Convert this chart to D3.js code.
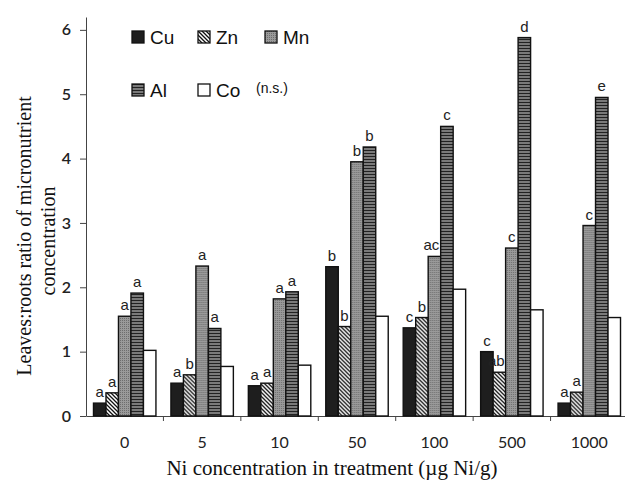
<!DOCTYPE html>
<html>
<head>
<meta charset="utf-8">
<script src="https://cdn.jsdelivr.net/npm/d3@7"></script>
<style>
  body { margin: 0; background: #fff; }
  svg { display: block; }
</style>
</head>
<body>
<div id="chart"></div>
<script>
// treatment groups (µg Ni/g) and nutrients
const groups = ["0", "5", "10", "50", "100", "500", "1000"];
const nutrients = ["Cu", "Zn", "Mn", "Al", "Co"];

// leaves:roots ratios, one array per nutrient
const cuVals = [0.20, 0.51, 0.47, 2.32, 1.37, 1.00, 0.20];
const znVals = [0.36, 0.64, 0.51, 1.39, 1.53, 0.68, 0.37];
const mnVals = [1.55, 2.33, 1.82, 3.95, 2.48, 2.61, 2.96];
const alVals = [1.91, 1.36, 1.93, 4.18, 4.50, 5.88, 4.95];
const coVals = [1.02, 0.77, 0.79, 1.55, 1.97, 1.65, 1.53];

// significance letters (Co is n.s.)
const cuLetters = ["a", "a", "a", "b", "c", "c", "a"];
const znLetters = ["a", "b", "a", "b", "b", "ab", "a"];
const mnLetters = ["a", "a", "a", "b", "ac", "c", "c"];
const alLetters = ["a", "a", "a", "b", "c", "d", "e"];

const yTicks = [0, 1, 2, 3, 4, 5, 6];

const values = { Cu: cuVals, Zn: znVals, Mn: mnVals, Al: alVals, Co: coVals };
const letters = { Cu: cuLetters, Zn: znLetters, Mn: mnLetters, Al: alLetters };

const width = 625, height = 487;
const margin = { top: 17, right: -3, bottom: 71, left: 86 };

const svg = d3.select("#chart")
  .append("svg")
  .attr("width", width)
  .attr("height", height);

// patterns for the bar fills
const defs = svg.append("defs");

const zn = defs.append("pattern")
  .attr("id", "pZn").attr("patternUnits", "userSpaceOnUse")
  .attr("width", 4).attr("height", 4);
zn.append("rect").attr("width", 4).attr("height", 4).attr("fill", "#fff");
zn.append("path").attr("d", "M-1,-1 L5,5 M-1,3 L1,5 M3,-1 L5,1")
  .attr("stroke", "#111").attr("stroke-width", 1.3);

const mn = defs.append("pattern")
  .attr("id", "pMn").attr("patternUnits", "userSpaceOnUse")
  .attr("width", 2).attr("height", 2);
mn.append("rect").attr("width", 2).attr("height", 2).attr("fill", "#9a9a9a");
mn.append("rect").attr("width", 1).attr("height", 1).attr("fill", "#6e6e6e");

const al = defs.append("pattern")
  .attr("id", "pAl").attr("patternUnits", "userSpaceOnUse")
  .attr("width", 3).attr("height", 3);
al.append("rect").attr("width", 3).attr("height", 3).attr("fill", "#7a7a7a");
al.append("rect").attr("width", 3).attr("height", 1).attr("fill", "#222");

const fills = { Cu: "#1e1e1e", Zn: "url(#pZn)", Mn: "url(#pMn)", Al: "url(#pAl)", Co: "#fff" };

// scales
const x0 = d3.scaleBand()
  .domain(groups)
  .range([margin.left, width - margin.right])
  .paddingInner(0).paddingOuter(0);

const x1 = d3.scaleBand()
  .domain(nutrients)
  .range([0, x0.bandwidth()])
  .paddingInner(0).paddingOuter(0.6);

const y = d3.scaleLinear()
  .domain([0, 6.2])
  .range([height - margin.bottom, margin.top]);

// y axis
svg.append("g")
  .attr("transform", `translate(${margin.left},0)`)
  .call(d3.axisLeft(y).tickValues(yTicks).tickFormat(d3.format("d"))
    .tickSize(6).tickSizeOuter(0).tickPadding(9))
  .call(g => g.select(".domain").attr("stroke", "#444"))
  .call(g => g.selectAll(".tick line").attr("stroke", "#444"))
  .call(g => g.selectAll("text")
    .attr("font-family", "Lato, 'Open Sans', sans-serif")
    .attr("font-weight", 600)
    .attr("font-size", 16)
    .attr("fill", "#222"));

// x axis: labels at band centres, tick marks between groups
svg.append("g")
  .attr("transform", `translate(0,${y(0)})`)
  .call(d3.axisBottom(x0).tickSize(0).tickSizeOuter(0).tickPadding(21))
  .call(g => g.select(".domain").attr("stroke", "#444"))
  .call(g => g.selectAll("text")
    .attr("font-family", "Lato, 'Open Sans', sans-serif")
    .attr("font-size", 16)
    .attr("fill", "#222"));

svg.append("g")
  .selectAll("line")
  .data(groups.slice(1))
  .join("line")
  .attr("x1", d => x0(d))
  .attr("x2", d => x0(d))
  .attr("y1", y(0))
  .attr("y2", y(0) + 5)
  .attr("stroke", "#444");

// bars
const g = svg.append("g")
  .selectAll("g")
  .data(groups)
  .join("g")
  .attr("transform", d => `translate(${x0(d)},0)`);

g.selectAll("rect")
  .data((d, i) => nutrients.map(n => ({ n, v: values[n][i] })))
  .join("rect")
  .attr("x", d => x1(d.n))
  .attr("y", d => y(d.v))
  .attr("width", x1.bandwidth())
  .attr("height", d => y(0) - y(d.v))
  .attr("fill", d => fills[d.n])
  .attr("stroke", "#111")
  .attr("stroke-width", 1.4);

g.selectAll("text")
  .data((d, i) => ["Cu", "Zn", "Mn", "Al"].map(n => ({ n, v: values[n][i], t: letters[n][i] })))
  .join("text")
  .attr("x", d => x1(d.n) + x1.bandwidth() / 2 - (d.t.length > 1 ? 3 : 0))
  .attr("y", d => y(d.v) - 6)
  .attr("text-anchor", "middle")
  .attr("font-family", "'Liberation Sans', Arial, sans-serif")
  .attr("font-size", 15)
  .attr("fill", "#222")
  .text(d => d.t);

// legend
const legendPos = [
  { n: "Cu", x: 132, y: 31 }, { n: "Zn", x: 198, y: 31 }, { n: "Mn", x: 265, y: 31 },
  { n: "Al", x: 132, y: 84 }, { n: "Co", x: 198, y: 84 }
];
const leg = svg.append("g")
  .selectAll("g")
  .data(legendPos)
  .join("g")
  .attr("transform", d => `translate(${d.x},${d.y})`);

leg.append("rect")
  .attr("width", 12).attr("height", 12)
  .attr("fill", d => fills[d.n])
  .attr("stroke", "#111").attr("stroke-width", 1.3);

leg.append("text")
  .attr("x", 18).attr("y", 13)
  .attr("font-family", "'Liberation Sans', Arial, sans-serif")
  .attr("font-size", 19)
  .attr("fill", "#111")
  .text(d => d.n);

svg.append("text")
  .attr("x", 256).attr("y", 93)
  .attr("font-family", "'Liberation Sans', Arial, sans-serif")
  .attr("font-size", 14)
  .attr("fill", "#111")
  .text("(n.s.)");

// axis titles
svg.append("text")
  .attr("transform", "translate(31,236) rotate(-90)")
  .attr("text-anchor", "middle")
  .attr("font-family", "'Liberation Serif', serif")
  .attr("font-size", 20)
  .attr("fill", "#111")
  .text("Leaves:roots ratio of micronutrient");

svg.append("text")
  .attr("transform", "translate(55,241) rotate(-90)")
  .attr("text-anchor", "middle")
  .attr("font-family", "'Liberation Serif', serif")
  .attr("font-size", 20)
  .attr("fill", "#111")
  .text("concentration");

svg.append("text")
  .attr("x", 332).attr("y", 475)
  .attr("text-anchor", "middle")
  .attr("font-family", "'Liberation Serif', serif")
  .attr("font-size", 21)
  .attr("fill", "#111")
  .text("Ni concentration in treatment (µg Ni/g)");
</script>
</body>
</html>
